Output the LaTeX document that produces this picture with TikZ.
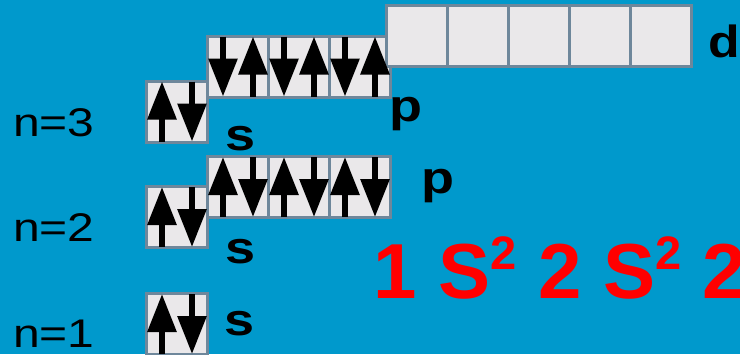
\documentclass[tikz,border=0pt]{standalone}
\usepackage{fontspec}
\setmainfont{Liberation Sans}
\usetikzlibrary{arrows.meta}
\definecolor{bgblue}{HTML}{0099CC}
\definecolor{cellfill}{HTML}{EAE8EA}
\definecolor{cellline}{HTML}{6E879B}
\definecolor{cfgred}{HTML}{FF0000}
\newcommand\xstretch[2]{\scalebox{#1}[1]{#2}}
\newcommand\updown[1]{%
  \draw[spin] ([shift={(-15pt,-30pt)}]#1.center) -- ([shift={(-15pt,30pt)}]#1.center);
  \draw[spin] ([shift={(15pt,30pt)}]#1.center) -- ([shift={(15pt,-30pt)}]#1.center);}
\newcommand\downup[1]{%
  \draw[spin] ([shift={(-15pt,30pt)}]#1.center) -- ([shift={(-15pt,-30pt)}]#1.center);
  \draw[spin] ([shift={(15pt,-30pt)}]#1.center) -- ([shift={(15pt,30pt)}]#1.center);}
\newcommand\supdigit[1]{\raisebox{29pt}{\fontsize{47}{47}\selectfont #1}}
\begin{document}
\begin{tikzpicture}[x=1pt,y=-1pt,
  cell/.style={draw=cellline, fill=cellfill, line width=3pt, minimum width=61pt,
    minimum height=61pt, inner sep=0pt, outer sep=0pt},
  spin/.style={line width=6pt, -{Triangle[width=28pt,length=38pt]}},
  nlabel/.style={inner sep=0pt, anchor=base west, font=\fontsize{40}{40}\selectfont},
  sublabel/.style={inner sep=0pt, anchor=base, font=\fontsize{45}{45}\selectfont\bfseries},
  cfg/.style={inner sep=0pt, anchor=base west, text=cfgred, font=\fontsize{78}{78}\selectfont\bfseries}
]
\clip (0,0) rectangle (740,354);
\fill[bgblue] (0,0) rectangle (740,354);

% n = 3
\node[cell] (s3) at (177,111.5) {};
\node[cell] (p3a) at (238,66.5) {};
\node[cell] (p3b) at (299,66.5) {};
\node[cell] (p3c) at (360,66.5) {};
\node[cell] (d1) at (417,36) {};
\node[cell] (d2) at (478,36) {};
\node[cell] (d3) at (539,36) {};
\node[cell] (d4) at (600,36) {};
\node[cell] (d5) at (661,36) {};
\updown{s3}
\downup{p3a}
\downup{p3b}
\downup{p3c}

% n = 2
\node[cell] (s2) at (177,217) {};
\node[cell] (p2a) at (238,187) {};
\node[cell] (p2b) at (299,187) {};
\node[cell] (p2c) at (360,187) {};
\updown{s2}
\updown{p2a}
\updown{p2b}
\updown{p2c}

% n = 1
\node[cell] (s1) at (177,324) {};
\updown{s1}

% labels
\node[nlabel] (n3) at (13,136) {\xstretch{1.2}{n=3}};
\node[nlabel] (n2) at (13,241) {\xstretch{1.2}{n=2}};
\node[nlabel] (n1) at (13,347) {\xstretch{1.2}{n=1}};
\node[sublabel] (ls3) at (241,150) {\xstretch{1.2}{s}};
\node[sublabel] (lp3) at (406,121) {\xstretch{1.2}{p}};
\node[sublabel, anchor=base west] (ld3) at (708,57) {\xstretch{1.15}{d}};
\node[sublabel] (ls2) at (241,263) {\xstretch{1.2}{s}};
\node[sublabel] (lp2) at (437.5,193) {\xstretch{1.2}{p}};
\node[sublabel] (ls1) at (240,335) {\xstretch{1.2}{s}};

% configuration
\node[cfg] (config) at (373,298) {1 S\supdigit{2} 2 S\supdigit{2} 2};
\end{tikzpicture}
\end{document}
